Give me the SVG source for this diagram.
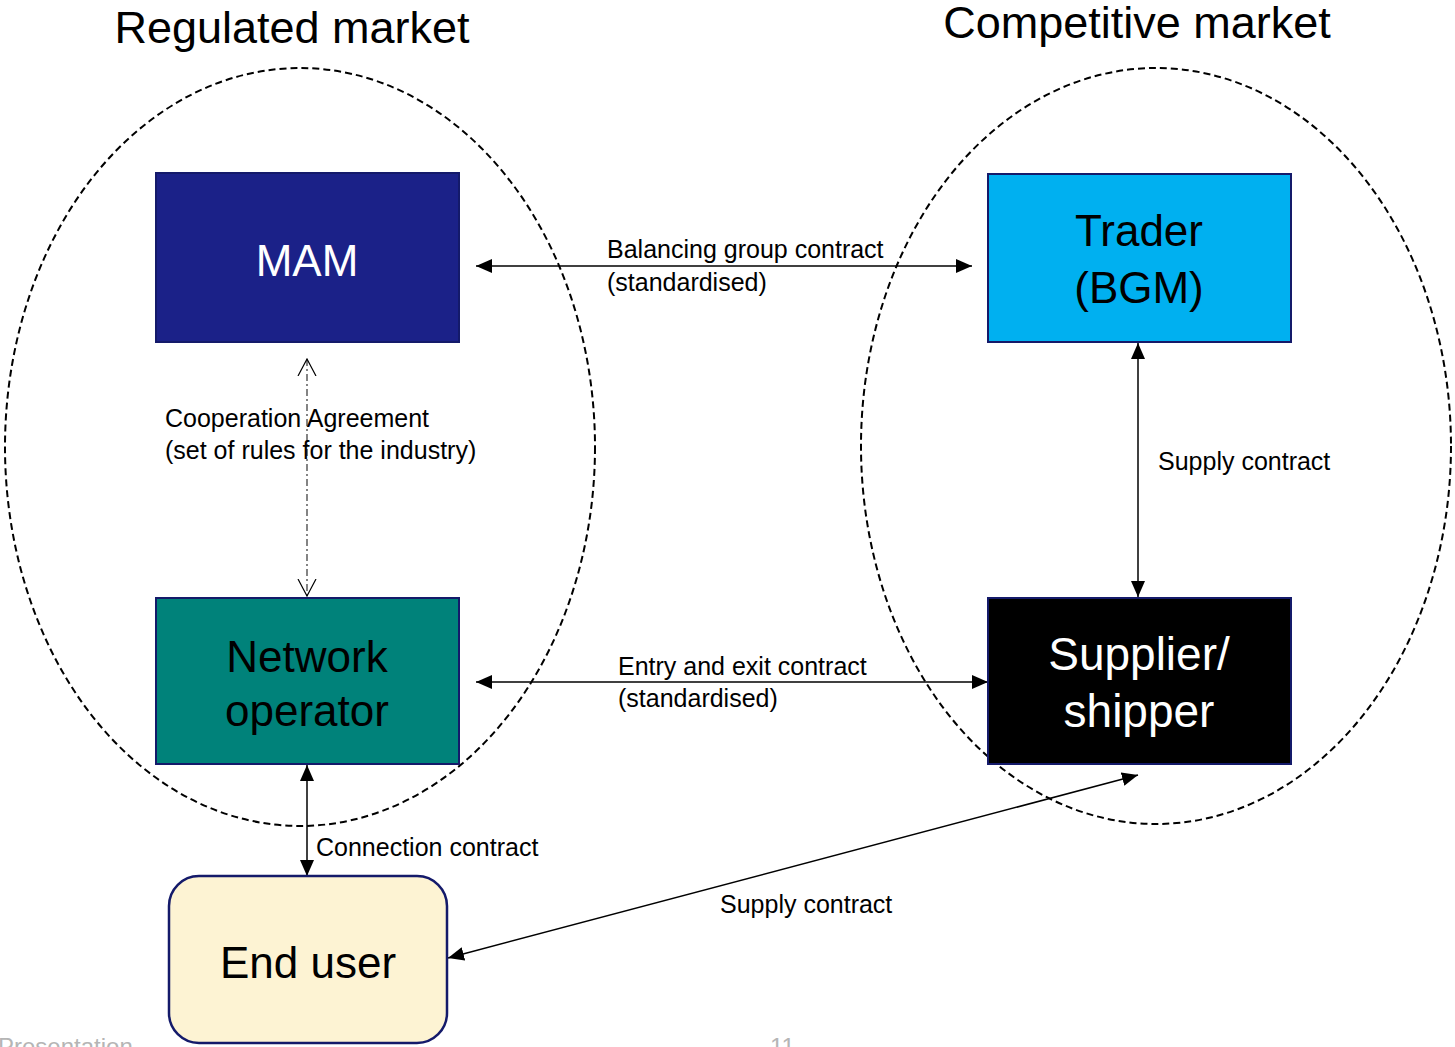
<svg xmlns="http://www.w3.org/2000/svg" width="1455" height="1047" viewBox="0 0 1455 1047">
<defs>
<style>
.t{font-family:"Liberation Sans",Arial,sans-serif;}
.title{font-size:45px;fill:#000;}
.box{font-size:44px;text-anchor:middle;}
.lbl{font-size:25px;fill:#000;}
.ell{fill:none;stroke:#000;stroke-width:2;stroke-dasharray:7 4;}
.con{fill:none;stroke:#000;stroke-width:1.5;}
.coop{fill:none;stroke:#333;stroke-width:1.2;stroke-dasharray:7 3 2 3;}
.foot{font-size:24px;fill:#b5b5b5;}
</style>
<marker id="ahb" viewBox="0 0 16 14" refX="16" refY="7" markerWidth="16" markerHeight="14" markerUnits="userSpaceOnUse" orient="auto-start-reverse">
<path d="M0,0 L16,7 L0,14 Z" fill="#000"/>
</marker>
<marker id="open" viewBox="0 0 18 20" refX="17" refY="10" markerWidth="18" markerHeight="20" markerUnits="userSpaceOnUse" orient="auto-start-reverse">
<path d="M0,1 L17,10 L0,19" fill="none" stroke="#000" stroke-width="1.2"/>
</marker>
</defs>
<rect width="1455" height="1047" fill="#fff"/>

<g id="regions">
<ellipse class="ell" cx="300" cy="447" rx="295" ry="379"/>
<ellipse class="ell" cx="1156" cy="446" rx="295" ry="378"/>
<text class="t title" x="292" y="43" text-anchor="middle">Regulated market</text>
<text class="t title" x="1137" y="38" text-anchor="middle">Competitive market</text>
</g>

<g id="connectors">
<line class="con" x1="476" y1="266" x2="972" y2="266" marker-start="url(#ahb)" marker-end="url(#ahb)"/>
<line class="coop" x1="307" y1="359" x2="307" y2="596" marker-start="url(#open)" marker-end="url(#open)"/>
<line class="con" x1="1138" y1="343" x2="1138" y2="597" marker-start="url(#ahb)" marker-end="url(#ahb)"/>
<line class="con" x1="476" y1="682" x2="988" y2="682" marker-start="url(#ahb)" marker-end="url(#ahb)"/>
<line class="con" x1="307" y1="765" x2="307" y2="876" marker-start="url(#ahb)" marker-end="url(#ahb)"/>
<line class="con" x1="448" y1="958" x2="1138" y2="775" marker-start="url(#ahb)" marker-end="url(#ahb)"/>
<text class="t lbl" x="607" y="258">Balancing group contract</text>
<text class="t lbl" x="607" y="291">(standardised)</text>
<text class="t lbl" x="165" y="427">Cooperation Agreement</text>
<text class="t lbl" x="165" y="459">(set of rules for the industry)</text>
<text class="t lbl" x="1158" y="470">Supply contract</text>
<text class="t lbl" x="618" y="675">Entry and exit contract</text>
<text class="t lbl" x="618" y="707">(standardised)</text>
<text class="t lbl" x="316" y="856">Connection contract</text>
<text class="t lbl" x="720" y="913">Supply contract</text>
</g>

<g id="mam">
<rect x="156" y="173" width="303" height="169" fill="#1b2188" stroke="#141a6a" stroke-width="2"/>
<text class="t box" x="307" y="276" fill="#fff">MAM</text>
</g>

<g id="trader">
<rect x="988" y="174" width="303" height="168" fill="#00b0f0" stroke="#141a6a" stroke-width="2"/>
<text class="t box" x="1139" y="246" fill="#000">Trader</text>
<text class="t box" x="1139" y="303" fill="#000">(BGM)</text>
</g>

<g id="network-operator">
<rect x="156" y="598" width="303" height="166" fill="#00827a" stroke="#141a6a" stroke-width="2"/>
<text class="t box" x="307" y="672" fill="#000">Network</text>
<text class="t box" x="307" y="726" fill="#000">operator</text>
</g>

<g id="supplier">
<rect x="988" y="598" width="303" height="166" fill="#000" stroke="#141a6a" stroke-width="2"/>
<text class="t box" x="1139" y="670" fill="#fff" style="font-size:46px">Supplier/</text>
<text class="t box" x="1139" y="727" fill="#fff" style="font-size:46px">shipper</text>
</g>

<g id="end-user">
<rect x="169" y="876" width="278" height="167" rx="30" ry="30" fill="#fdf3d3" stroke="#141a6a" stroke-width="2.5"/>
<text class="t box" x="308" y="978" fill="#000">End user</text>
</g>

<g id="footer">
<text class="t foot" x="-2" y="1055">Presentation</text>
<text class="t foot" x="770" y="1055">11</text>
</g>
</svg>
